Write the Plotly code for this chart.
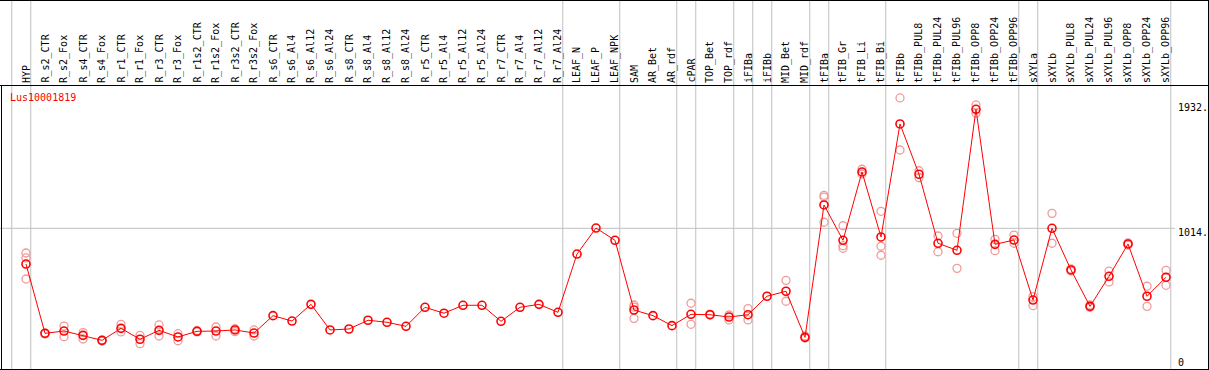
import plotly.graph_objects as go

categories = ["HYP", "R_s2_CTR", "R_s2_Fox", "R_s4_CTR", "R_s4_Fox", "R_r1_CTR", "R_r1_Fox",
              "R_r3_CTR", "R_r3_Fox", "R_r1s2_CTR", "R_r1s2_Fox", "R_r3s2_CTR", "R_r3s2_Fox",
              "R_s6_CTR", "R_s6_Al4", "R_s6_Al12", "R_s6_Al24", "R_s8_CTR", "R_s8_Al4",
              "R_s8_Al12", "R_s8_Al24", "R_r5_CTR", "R_r5_Al4", "R_r5_Al12", "R_r5_Al24",
              "R_r7_CTR", "R_r7_Al4", "R_r7_Al12", "R_r7_Al24", "LEAF_N", "LEAF_P", "LEAF_NPK",
              "SAM", "AR_Bet", "AR_rdf", "cPAR", "TOP_Bet", "TOP_rdf", "iFIBa", "iFIBb",
              "MID_Bet", "MID_rdf", "tFIBa", "tFIB_Gr", "tFIB_Li", "tFIB_Bi", "tFIBb",
              "tFIBb_PUL8", "tFIBb_PUL24", "tFIBb_PUL96", "tFIBb_OPP8", "tFIBb_OPP24",
              "tFIBb_OPP96", "sXYLa", "sXYLb", "sXYLb_PUL8", "sXYLb_PUL24", "sXYLb_PUL96",
              "sXYLb_OPP8", "sXYLb_OPP24", "sXYLb_OPP96"]

mean_values = [749, 235, 252, 220, 183, 272, 191, 257, 208, 250, 252, 260, 237,
               366, 326, 450, 260, 267, 332, 317, 287, 428, 384, 443, 443, 324, 428, 450, 391,
               823, 1016, 925, 408, 366, 292, 376, 373, 356, 373, 510, 547, 205,
               1187, 925, 1432, 950, 1788, 1415, 903, 851, 1897, 895, 927,
               482, 1014, 705, 435, 658, 898, 510, 651]

rep_a = [831, 237, 289, 240, 185, 302, 220, 297, 232, 256, 282, 269, 260,
         None, None, None, None, None, None, None, None, None, None, None, None, None, None, None, None,
         None, None, None, 445, None, None, 458, 378, 371, 418, None, 628, 215,
         1259, 1033, 1452, 1140, 1981, 1441, 957, 977, 1929, 932, 964,
         507, 1125, 712, 445, 697, 905, 584, 702]

rep_b = [794, 230, 210, 193, 178, 245, 158, 215, 180, 245, 215, 247, 215,
         None, None, None, None, None, None, None, None, None, None, None, None, None, None, None, None,
         None, None, None, 346, None, None, 302, 371, 334, 334, None, 473, 200,
         1246, 885, 1417, 881, 1595, 1389, 840, 717, 1867, 848, 903,
         440, 903, 697, 428, 616, 890, 435, 591]

rep_c = [638, None, None, None, None, None, None, None, None, None, None, None, None,
         None, None, None, None, None, None, None, None, None, None, None, None, None, None, None, None,
         None, None, None, 430, None, None, None, None, None, None, None, None, None,
         1059, 866, None, 814, None, None, None, None, None, None, None,
         None, None, None, None, None, None, None, None]

tick_values = [1932, 1014, 0]
tick_labels = ["1932.", "1014.", "0"]
gene_name = "Lus10001819"
group_breaks = [-1, 0, 28, 31, 34, 35, 37, 38, 39, 41, 42, 45, 52, 53, 60]

# ---- layout geometry (pixels) ----
W, H = 1209, 370
X0, DX = 26, 19          # pixel centre of first column, column pitch
PLOT_TOP, PLOT_BOT = 86, 369
Y_ZERO, PX_PER_UNIT = 365.0, 1 / 7.418

def py(v):  # pixel y -> paper
    return 1 - v / H

x_range = [-X0 / DX, (W - X0) / DX]
y_top_val = (Y_ZERO - PLOT_TOP) / PX_PER_UNIT
y_bot_val = (Y_ZERO - PLOT_BOT) / PX_PER_UNIT

idx = list(range(len(categories)))
FONT = "DejaVu Sans Mono"
PINK = "rgb(240,155,155)"

fig = go.Figure()
for reps in (rep_a, rep_b, rep_c):
    fig.add_trace(go.Scatter(x=idx, y=reps, mode="markers",
                             marker=dict(symbol="circle-open", size=8, color=PINK,
                                         line=dict(width=1.3, color=PINK)),
                             showlegend=False, hoverinfo="skip"))
fig.add_trace(go.Scatter(x=idx, y=mean_values, mode="lines+markers",
                         line=dict(color="red", width=1),
                         marker=dict(symbol="circle-open", size=8, color="red",
                                     line=dict(width=1.6, color="red")),
                         text=categories, showlegend=False))

shapes = []
for k in group_breaks:
    xb = k + 0.25
    shapes.append(dict(type="line", xref="x", yref="paper", x0=xb, x1=xb, y0=0, y1=1,
                       line=dict(color="#c0c0c0", width=1), layer="below"))
# gridline at 1014
shapes.append(dict(type="line", xref="paper", yref="y", x0=0, x1=1175 / W,
                   y0=tick_values[1], y1=tick_values[1],
                   line=dict(color="#c0c0c0", width=1), layer="below"))
# borders
shapes += [
    dict(type="line", xref="paper", yref="paper", x0=0, x1=1, y0=py(0.5), y1=py(0.5),
         line=dict(color="black", width=1)),
    dict(type="line", xref="paper", yref="paper", x0=0, x1=1, y0=py(85.5), y1=py(85.5),
         line=dict(color="black", width=1)),
    dict(type="line", xref="paper", yref="paper", x0=0, x1=1, y0=py(369.5), y1=py(369.5),
         line=dict(color="black", width=1)),
    dict(type="line", xref="paper", yref="paper", x0=1.5 / W, x1=1.5 / W, y0=py(85.5), y1=py(370),
         line=dict(color="black", width=1)),
    dict(type="line", xref="paper", yref="paper", x0=1208.5 / W, x1=1208.5 / W, y0=0, y1=1,
         line=dict(color="black", width=1)),
]

annotations = []
for i, c in enumerate(categories):
    annotations.append(dict(x=i, xref="x", y=py(84), yref="paper", text=c, textangle=-90,
                            showarrow=False, xanchor="center", yanchor="bottom",
                            font=dict(family=FONT, size=10, color="black"), borderpad=0))
annotations.append(dict(x=9 / W, xref="paper", y=py(97), yref="paper", text=gene_name,
                        showarrow=False, xanchor="left", yanchor="middle",
                        font=dict(family=FONT, size=10, color="red"), borderpad=0))
label_y = [107.5, 232, 362]
for t, ly in zip(tick_labels, label_y):
    annotations.append(dict(x=1177 / W, xref="paper", y=py(ly), yref="paper", text=t,
                            showarrow=False, xanchor="left", yanchor="middle",
                            font=dict(family=FONT, size=10, color="black"), borderpad=0))

fig.update_layout(
    width=W, height=H, autosize=False,
    margin=dict(l=0, r=0, t=0, b=0),
    paper_bgcolor="white", plot_bgcolor="white",
    xaxis=dict(range=x_range, domain=[0, 1], visible=False, fixedrange=True),
    yaxis=dict(range=[y_bot_val, y_top_val], domain=[py(PLOT_BOT), py(PLOT_TOP)],
               visible=False, fixedrange=True),
    shapes=shapes, annotations=annotations,
)
fig.write_html("out.html", config={"displayModeBar": False},
               post_script="document.body.style.margin='0';document.body.style.overflow='hidden';")
